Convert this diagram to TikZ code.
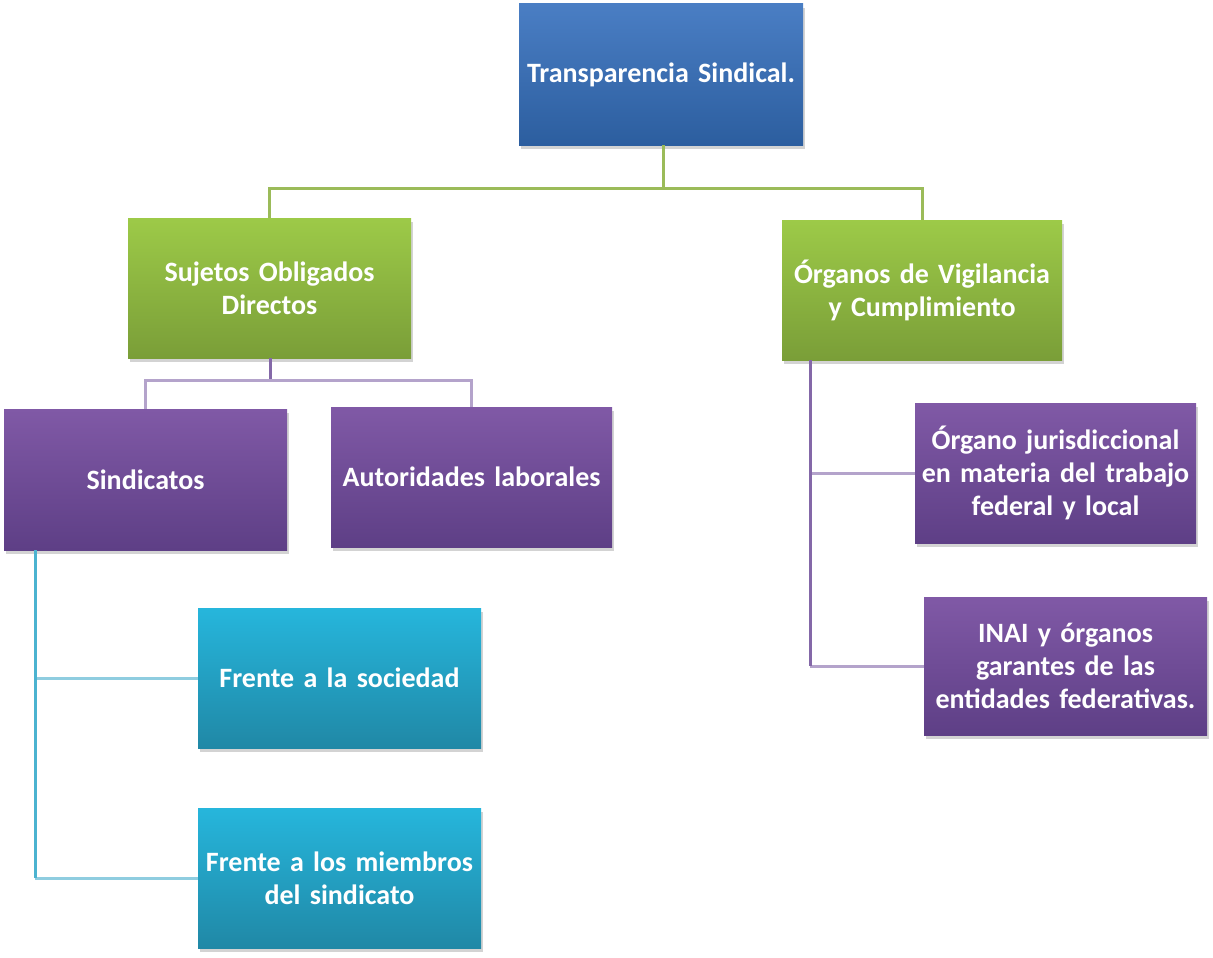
\documentclass[tikz,border=0pt]{standalone}
\usepackage{fontspec}
\setmainfont[WordSpace=0.6]{Carlito}
\usetikzlibrary{shadows}
\definecolor{bluetop}{HTML}{4A7EC4}
\definecolor{bluebot}{HTML}{2C5E9F}
\definecolor{greentop}{HTML}{9DCA48}
\definecolor{greenbot}{HTML}{7A9E38}
\definecolor{purptop}{HTML}{8059A6}
\definecolor{purpbot}{HTML}{5E3F86}
\definecolor{cyantop}{HTML}{26B6DC}
\definecolor{cyanbot}{HTML}{2088A6}
\definecolor{greenline}{HTML}{9BBB59}
\definecolor{purpline}{HTML}{8468A8}
\definecolor{purplight}{HTML}{B4A3CB}
\definecolor{cyanline}{HTML}{4BB3D0}
\definecolor{cyanlight}{HTML}{8FCDE0}
\begin{document}
\begin{tikzpicture}[x=1pt,y=-1pt,
    box/.style={rectangle, minimum width=283pt, minimum height=140pt, text width=280pt, align=center,
        text=white, font=\fontsize{28}{33}\selectfont\bfseries, inner sep=0pt,
        drop shadow={opacity=0.35, shadow xshift=2pt, shadow yshift=-4pt}},
    bluebox/.style={box, top color=bluetop, bottom color=bluebot},
    greenbox/.style={box, top color=greentop, bottom color=greenbot},
    purpbox/.style={box, top color=purptop, bottom color=purpbot},
    cyanbox/.style={box, top color=cyantop, bottom color=cyanbot},
    link/.style={line width=3pt}]
    \useasboundingbox (0,0) rectangle (1213,958);
    \node[bluebox, minimum width=284pt, minimum height=141pt] (trans) at (661,74.5) {Transparencia Sindical.};
    \node[greenbox] (suj) at (269.5,288) {Sujetos Obligados\\Directos};
    \node[greenbox, minimum width=280pt] (org) at (922,290) {Órganos de Vigilancia\\y Cumplimiento};
    \node[purpbox, minimum height=141pt] (sind) at (145.5,479.5) {Sindicatos};
    \node[purpbox, minimum width=281pt] (aut) at (471.5,477) {Autoridades laborales};
    \node[purpbox, minimum width=281pt] (jur) at (1055.5,473) {Órgano jurisdiccional\\en materia del trabajo\\federal y local};
    \node[purpbox, minimum height=138pt] (inai) at (1065.5,666) {INAI y órganos\\garantes de las\\entidades federativas.};
    \node[cyanbox] (soc) at (339.5,678) {Frente a la sociedad};
    \node[cyanbox] (miem) at (339.5,878) {Frente a los miembros\\del sindicato};
    \coordinate (gj) at (663,188);
    \coordinate (pj) at (270,380);
    \coordinate (ot) at (810,360);
    \coordinate (ob) at (810,666);
    \coordinate (st) at (35,550);
    \coordinate (sb) at (35,878);
    \draw[link, greenline] (trans.south -| gj) -- (gj) -| (suj.north);
    \draw[link, greenline] (gj) -| (org.north);
    \draw[link, purpline] (suj.south -| pj) -- (pj);
    \draw[link, purplight] (pj) -| (sind.north);
    \draw[link, purplight] (pj) -| (aut.north);
    \draw[link, purplight] (ot |- jur.west) -- (jur.west);
    \draw[link, purplight] (ob) -- (inai.west);
    \draw[link, purpline] (ot) -- (ob);
    \draw[link, cyanlight] (st |- soc.west) -- (soc.west);
    \draw[link, cyanlight] (sb) -- (miem.west);
    \draw[link, cyanline] (st) -- (sb);
\end{tikzpicture}
\end{document}
